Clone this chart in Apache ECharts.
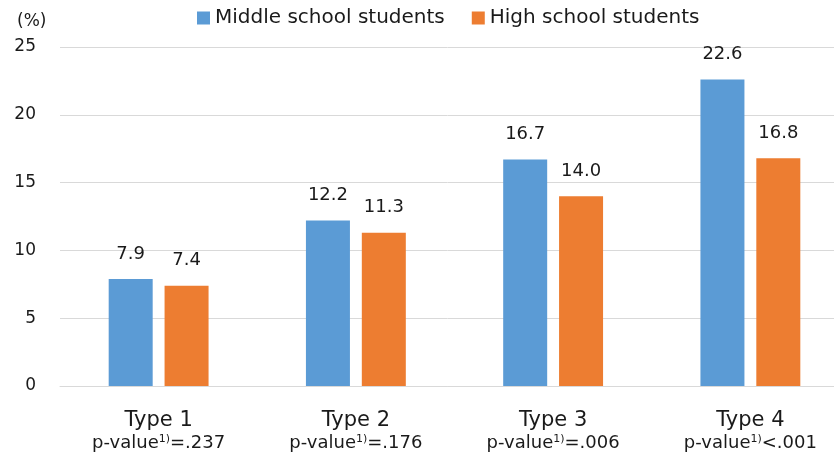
<!DOCTYPE html>
<html>
<head>
<meta charset="utf-8">
<script src="https://cdn.jsdelivr.net/npm/echarts@6/dist/echarts.min.js"></script>
<style>
  html, body { margin: 0; padding: 0; background: #fff; }
  #chart { width: 834px; height: 464px; }
</style>
</head>
<body>
<div id="chart"></div>
<script>
// Category names and their p-value notes
const categories = ['Type 1', 'Type 2', 'Type 3', 'Type 4'];
const pNotes = ['=.237', '=.176', '=.006', '<.001'];

// Percentages per group
const middleSchool = [7.9, 12.2, 16.7, 22.6];
const highSchool = [7.4, 11.3, 14.0, 16.8];

// Y axis ticks
const yMin = 0, yMax = 25, yStep = 5;

const FONT = '"DejaVu Sans", "Noto Sans", sans-serif';
const INK = '#1a1a1a';

const chart = echarts.init(document.getElementById('chart'));
chart.setOption({
  animation: false,
  textStyle: { fontFamily: FONT },
  title: {
    text: '(%)',
    left: 12, top: 8,
    textStyle: { fontSize: 17, fontWeight: 'normal', color: INK, fontFamily: FONT }
  },
  legend: {
    top: 8,
    left: 197,
    padding: 0,
    itemWidth: 13, itemHeight: 13,
    itemGap: 27,
    icon: 'rect',
    textStyle: { fontSize: 20, color: INK, fontFamily: FONT }
  },
  // the plot runs a little past the right edge, so the last pair sits close to it
  grid: { left: 60, right: -15, top: 47, bottom: 78, outerBoundsMode: 'none' },
  xAxis: {
    type: 'category',
    data: categories,
    axisLine: { lineStyle: { color: '#d9d9d9' } },
    axisTick: { show: false },
    axisLabel: {
      margin: 23,
      interval: 0,
      formatter: function (v, i) {
        return '{t|' + v + '}\n{p|p-value}{s|1)}{p|' + pNotes[i] + '}';
      },
      rich: {
        t: { fontSize: 21, color: INK, lineHeight: 24, fontFamily: FONT },
        p: { fontSize: 18, color: INK, lineHeight: 20, fontFamily: FONT },
        s: { fontSize: 11, color: INK, verticalAlign: 'middle', padding: [0, 0, 8, 0], fontFamily: FONT }
      }
    }
  },
  yAxis: {
    type: 'value',
    min: yMin, max: yMax, interval: yStep,
    axisLine: { show: false },
    axisTick: { show: false },
    splitLine: { lineStyle: { color: '#d9d9d9' } },
    axisLabel: { fontSize: 17, color: INK, margin: 24, fontFamily: FONT }
  },
  series: [
    {
      name: 'Middle school students',
      type: 'bar',
      data: middleSchool,
      barWidth: 44,
      barGap: '27%',
      itemStyle: { color: '#5b9bd5' },
      label: {
        show: true, position: 'top', distance: 16,
        fontSize: 18, color: INK, fontFamily: FONT,
        formatter: p => p.value.toFixed(1)
      }
    },
    {
      name: 'High school students',
      type: 'bar',
      data: highSchool,
      barWidth: 44,
      itemStyle: { color: '#ed7d31' },
      label: {
        show: true, position: 'top', distance: 16,
        fontSize: 18, color: INK, fontFamily: FONT,
        formatter: p => p.value.toFixed(1)
      }
    }
  ]
});
</script>
</body>
</html>
